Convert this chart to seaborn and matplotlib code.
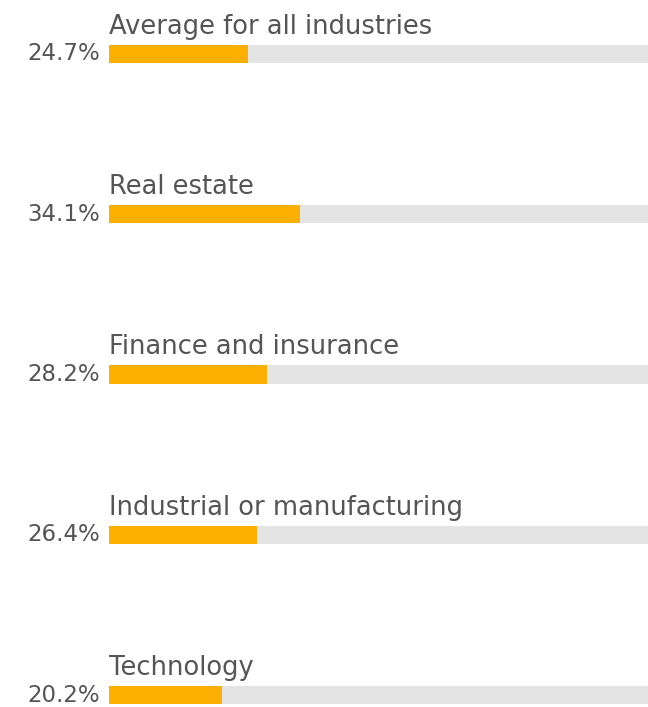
import pandas as pd
import matplotlib.pyplot as plt
import seaborn as sns

# Data
industries = ["Average for all industries", "Real estate", "Finance and insurance",
              "Industrial or manufacturing", "Technology"]
shares = [24.7, 34.1, 28.2, 26.4, 20.2]
labels = ["24.7%", "34.1%", "28.2%", "26.4%", "20.2%"]

df = pd.DataFrame({"industry": industries, "share": shares, "full": [100] * len(shares)})

sns.set_style("white")
plt.rcParams["font.family"] = ["DejaVu Sans"]

fig = plt.figure(figsize=(6.48, 7.07), dpi=100)
ax = fig.add_axes([109 / 648, 0, 1 - 109 / 648, 1])

bar_h = 18 / 160.25
sns.barplot(data=df, x="full", y="industry", color="#e4e4e4", width=bar_h,
            saturation=1, linewidth=0, ax=ax)
sns.barplot(data=df, x="share", y="industry", color="#fbb000", width=bar_h,
            saturation=1, linewidth=0, ax=ax)

ax.set_xlim(0, 96)
ax.set_ylim(4 + 12 / 160.25, -54 / 160.25)
ax.axis("off")

text_color = "#555555"
for i, (name, lab) in enumerate(zip(industries, labels)):
    ax.text(0, i - 20 / 160.25, name, ha="left", va="baseline",
            fontsize=18.5, color=text_color)
    ax.annotate(lab, xy=(0, i), xytext=(-6.5, 0), textcoords="offset points",
                ha="right", va="center", fontsize=16.5, color=text_color,
                annotation_clip=False)

fig.savefig("out.png", dpi=100)
